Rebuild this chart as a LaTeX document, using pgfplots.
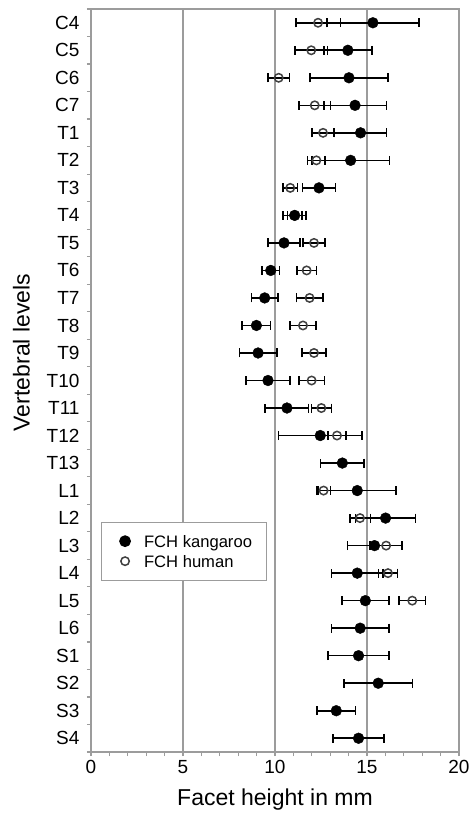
\documentclass[border=0pt]{standalone}
\usepackage{pgfplots}
\usepackage{pgfplotstable}
\pgfplotsset{compat=1.18}
\usepackage{fontspec}
\setmainfont{Liberation Sans}
\definecolor{framegray}{HTML}{9C9C9C}
\definecolor{circgray}{HTML}{404040}
\pgfplotstableread{
y x e
0 15.32 2.49
1 13.96 1.30
2 14.02 2.11
3 14.35 1.70
4 14.65 1.41
5 14.11 2.11
6 12.39 0.89
7 11.07 0.40
8 10.49 0.87
9 9.77 0.47
10 9.44 0.72
11 8.99 0.77
12 9.08 1.02
13 9.62 1.20
14 10.65 1.18
15 12.46 2.28
16 13.66 1.19
17 14.47 2.12
18 16.01 1.63
19 15.41 1.48
20 14.47 1.41
21 14.91 1.27
22 14.63 1.57
23 14.54 1.67
24 15.61 1.87
25 13.33 1.05
26 14.54 1.38
}\kangaroo
\pgfplotstableread{
y x e
0 12.34 1.21
1 11.97 0.88
2 10.20 0.58
3 12.16 0.85
4 12.61 0.60
5 12.25 0.48
6 10.83 0.40
7 11.05 0.62
8 12.12 0.60
9 11.72 0.53
10 11.88 0.72
11 11.52 0.71
12 12.12 0.66
13 11.99 0.70
14 12.52 0.54
15 13.37 0.50
17 12.64 0.38
18 14.62 0.56
19 16.04 0.87
20 16.14 0.51
21 17.46 0.72
}\human
\begin{document}
\begin{tikzpicture}
\begin{axis}[
  name=ax,
  scale only axis,
  width=368bp, height=743bp,
  xmin=0, xmax=20,
  ymin=-0.5, ymax=26.5,
  y dir=reverse,
  axis line style={framegray, line width=1.2bp},
  xtick={0,5,10,15,20},
  minor xtick={1,2,3,4,6,7,8,9,11,12,13,14,16,17,18,19},
  xtick pos=bottom,
  ytick pos=left,
  tick align=outside,
  major tick length=4bp,
  minor tick length=4bp,
  every tick/.style={framegray, line width=1.2bp},
  ytick={0,...,26},
  yticklabels={C4,C5,C6,C7,T1,T2,T3,T4,T5,T6,T7,T8,T9,T10,T11,T12,T13,L1,L2,L3,L4,L5,L6,S1,S2,S3,S4},
  minor ytick={-0.5,0.5,...,26.5},
  ytick style={draw=none},
  minor y tick style={draw=framegray, line width=1.2bp},
  xmajorgrids,
  major grid style={framegray, line width=1.3bp},
  /pgf/number format/assume math mode=true,
  ticklabel style={font=\fontsize{19bp}{22bp}\selectfont, text=black},
  yticklabel style={xshift=-4bp},
  xticklabel style={yshift=-1bp},
  xlabel={Facet height in mm},
  ylabel={Vertebral levels},
  label style={font=\fontsize{23bp}{27bp}\selectfont},
  xlabel style={yshift=-8bp},
  ylabel style={yshift=10bp, xshift=28bp},
  reverse legend,
  legend cell align=left,
  legend image code/.code={%
    \path[draw=none, fill=none] (-10bp,-10bp) rectangle (10bp,10bp);
    \draw[#1] plot coordinates {(0bp,0bp)};},
  legend style={at={(0.026,0.31)}, anchor=north west, draw=framegray, line width=1bp,
    font=\fontsize{16.6bp}{20bp}\selectfont, inner xsep=14bp, inner ysep=9bp,
    nodes={inner sep=0pt, text depth=0pt},
    row sep=0bp,
    /tikz/every odd column/.append style={column sep=9bp}},
]
\addplot[only marks, mark=o, mark size=4.2bp, draw=circgray, line width=1.5bp,
  error bars/.cd, x dir=both, x explicit,
  error bar style={black, line width=1.6bp},
  error mark options={black, line width=1.6bp, mark size=4.5bp, rotate=90}]
  table[x=x, y=y, x error=e] {\human};
\addlegendentry{FCH human}
\addplot[only marks, mark=*, mark size=5.4bp, black,
  error bars/.cd, x dir=both, x explicit,
  error bar style={black, line width=1.6bp},
  error mark options={black, line width=1.6bp, mark size=4.5bp, rotate=90}]
  table[x=x, y=y, x error=e] {\kangaroo};
\addlegendentry{FCH kangaroo}
\end{axis}
\pgfresetboundingbox
\path[use as bounding box] ([shift={(-91bp,-61bp)}]ax.south west) rectangle ([shift={(11bp,9bp)}]ax.north east);
\end{tikzpicture}
\end{document}
